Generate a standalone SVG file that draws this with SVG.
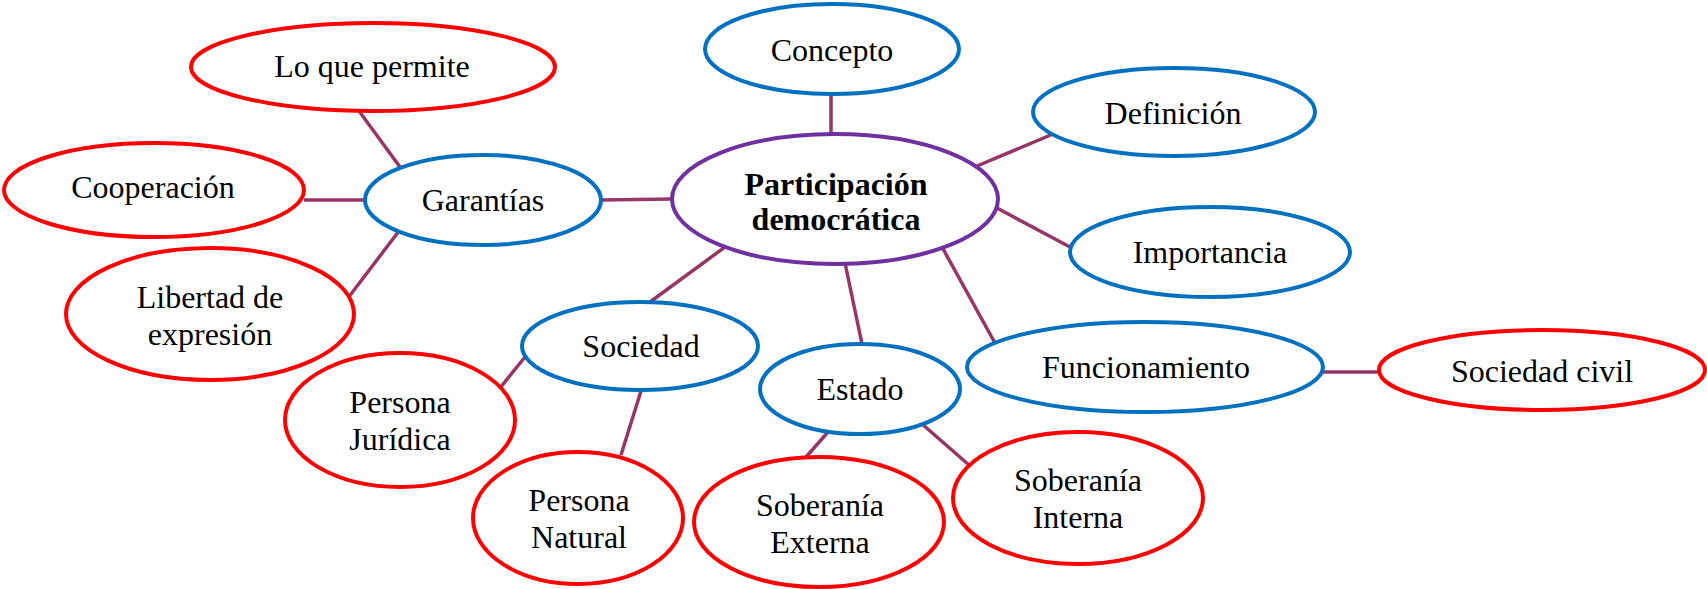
<svg xmlns="http://www.w3.org/2000/svg" width="1707" height="589" viewBox="0 0 1707 589">
<style>
ellipse{fill:#fff;stroke-width:4}
.r{stroke:#FF0000}
.b{stroke:#0070C0}
.p{stroke:#7030A0}
text{font-size:32px;fill:#000;text-anchor:middle}
.bold{font-weight:bold}
#connectors line{stroke:#963566;stroke-width:3.5;stroke-linecap:butt}
</style>
<rect width="1707" height="589" fill="#fff"/>
<g id="connectors">
<line x1="359" y1="111" x2="400" y2="167"/>
<line x1="304" y1="200" x2="366" y2="200"/>
<line x1="600" y1="200" x2="673" y2="199"/>
<line x1="399" y1="231" x2="348" y2="298"/>
<line x1="831" y1="94" x2="831" y2="134"/>
<line x1="977" y1="166" x2="1053" y2="134"/>
<line x1="997" y1="208" x2="1070" y2="247"/>
<line x1="725" y1="247" x2="650" y2="302"/>
<line x1="845" y1="263" x2="862" y2="344"/>
<line x1="942" y1="247" x2="995" y2="343"/>
<line x1="1323" y1="372" x2="1380" y2="372"/>
<line x1="525" y1="357" x2="500" y2="388"/>
<line x1="641" y1="391" x2="621" y2="455"/>
<line x1="828" y1="432" x2="806" y2="457"/>
<line x1="922" y1="424" x2="969" y2="465"/>
</g>
<g font-family="Liberation Serif, Times New Roman, serif">
<g id="participacion"><ellipse class="p" cx="835" cy="199" rx="163" ry="65"/><text class="bold" x="836" y="195">Participación</text><text class="bold" x="836" y="230">democrática</text></g>
<g id="concepto"><ellipse class="b" cx="832" cy="49" rx="127" ry="45"/><text x="832" y="61">Concepto</text></g>
<g id="definicion"><ellipse class="b" cx="1174" cy="112" rx="141" ry="44"/><text x="1173" y="124">Definición</text></g>
<g id="importancia"><ellipse class="b" cx="1210" cy="252" rx="140" ry="45"/><text x="1210" y="263">Importancia</text></g>
<g id="funcionamiento"><ellipse class="b" cx="1145" cy="367" rx="178" ry="45"/><text x="1146" y="378">Funcionamiento</text></g>
<g id="sociedad-civil"><ellipse class="r" cx="1542" cy="370" rx="163" ry="40"/><text x="1542" y="382">Sociedad civil</text></g>
<g id="garantias"><ellipse class="b" cx="483" cy="200" rx="118" ry="45"/><text x="483" y="211">Garantías</text></g>
<g id="lo-que-permite"><ellipse class="r" cx="373" cy="67" rx="182" ry="44"/><text x="372" y="77">Lo que permite</text></g>
<g id="cooperacion"><ellipse class="r" cx="154" cy="190" rx="150" ry="47"/><text x="153" y="198">Cooperación</text></g>
<g id="libertad"><ellipse class="r" cx="210" cy="314" rx="144" ry="66"/><text x="210" y="308">Libertad de</text><text x="210" y="345">expresión</text></g>
<g id="sociedad"><ellipse class="b" cx="640" cy="346" rx="118" ry="44"/><text x="641" y="357">Sociedad</text></g>
<g id="estado"><ellipse class="b" cx="860" cy="389" rx="100" ry="45"/><text x="860" y="400">Estado</text></g>
<g id="persona-juridica"><ellipse class="r" cx="400" cy="420" rx="115" ry="67"/><text x="400" y="413">Persona</text><text x="400" y="450">Jurídica</text></g>
<g id="persona-natural"><ellipse class="r" cx="578" cy="518" rx="105" ry="66"/><text x="579" y="511">Persona</text><text x="579" y="548">Natural</text></g>
<g id="soberania-externa"><ellipse class="r" cx="819" cy="522" rx="125" ry="65"/><text x="820" y="516">Soberanía</text><text x="820" y="553">Externa</text></g>
<g id="soberania-interna"><ellipse class="r" cx="1078" cy="498" rx="125" ry="66"/><text x="1078" y="491">Soberanía</text><text x="1078" y="528">Interna</text></g>
</g>
</svg>
